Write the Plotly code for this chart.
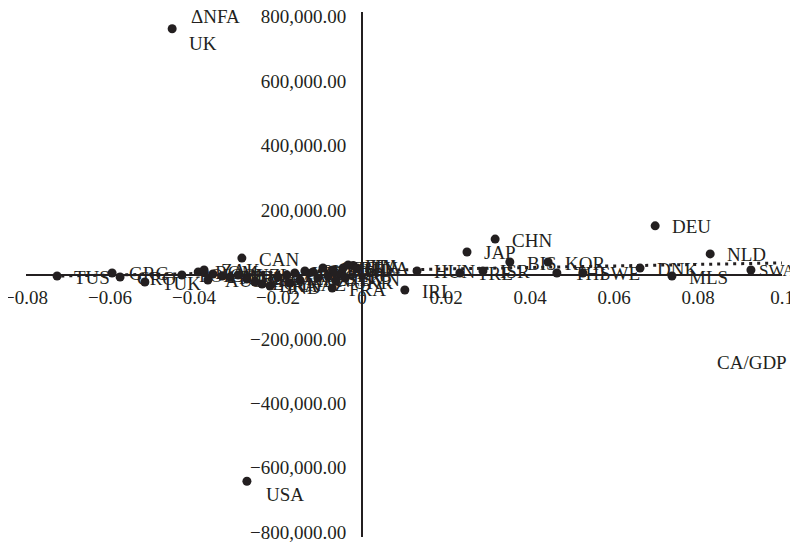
import plotly.graph_objects as go

# ---------------- data ----------------
countries = ["UK", "USA", "DEU", "NLD", "CHN", "JAP", "CAN", "SWA", "MLS", "DNK",
             "THI", "SWE", "KOR", "BIS", "ISR", "TRE", "HUN", "IRL", "FRA", "ITA",
             "TUS", "GRC", "CRO", "TUK", "POL", "ROM", "ZAK", "AUS", "COL", "PER",
             "CHL", "NZL", "ARG", "EGY", "BRA", "IND", "MEX", "PAK", "VNM", "IDN",
             "PHL", "BGD", "EST", "CZE", "SVK", "AUT", "LTU", "BEL", "FIN", "LVA",
             "SVN", "UKR", "KAZ"]
ca_gdp = [-0.0452, -0.0274, 0.0698, 0.0829, 0.0317, 0.0250, -0.0286, 0.0926, 0.0738, 0.0662,
          0.0464, 0.0526, 0.0443, 0.0352, 0.0288, 0.0233, 0.0131, 0.0102, -0.0071, -0.0021,
          -0.0726, -0.0595, -0.0576, -0.0517, -0.0429, -0.0390, -0.0376, -0.0367, -0.0355, -0.0333,
          -0.0314, -0.0295, -0.0274, -0.0255, -0.0238, -0.0219, -0.0200, -0.0179, -0.0160, -0.0148,
          -0.0136, -0.0117, -0.0105, -0.0093, -0.0081, -0.0069, -0.0052, -0.0045, -0.0033, -0.0012,
          -0.0040, -0.0062, -0.0171]
dnfa = [763000, -642000, 151000, 64000, 110000, 70000, 51000, 14000, -4700, 20000,
        4700, 4700, 38800, 38800, 10900, 4700, 10900, -48200, -41900, 28000,
        -4700, 4700, -7800, -23300, -1500, 7800, 14000, -17000, 1500, -4700,
        -7800, -1500, -14000, -23300, -29500, -35700, -7800, -1500, 4700, -17000,
        10900, 7800, -10900, 20200, -4700, 14000, 1500, 20200, 29500, 20200,
        -10900, -20200, -26400]

# linear trend line (dotted), end points
trend_x = [-0.0735, 0.1]
trend_y = [-5000, 36000]

x_ticks = [-0.08, -0.06, -0.04, -0.02, 0, 0.02, 0.04, 0.06, 0.08, 0.1]
x_tick_labels = ["\u22120.08", "\u22120.06", "\u22120.04", "\u22120.02", "0",
                 "0.02", "0.04", "0.06", "0.08", "0.1"]
y_ticks = [-800000, -600000, -400000, -200000, 200000, 400000, 600000, 800000]
y_tick_labels = ["\u2212800,000.00", "\u2212600,000.00", "\u2212400,000.00", "\u2212200,000.00",
                 "200,000.00", "400,000.00", "600,000.00", "800,000.00"]

x_title = "CA/GDP"
y_title = "\u0394NFA"

# ---------------- figure ----------------
INK = "#231f20"
FONT = "Liberation Serif"
FS = 19

fig = go.Figure()

fig.add_trace(go.Scatter(
    x=trend_x, y=trend_y, mode="lines",
    line=dict(color=INK, width=3, dash="3px,5px"),
    hoverinfo="skip", showlegend=False))

fig.add_trace(go.Scatter(
    x=ca_gdp, y=dnfa, mode="markers",
    marker=dict(color=INK, size=9),
    text=countries, showlegend=False))

# (xshift, yshift, font size) for labels placed differently from the default
label_style = {"UK": (15, -15, FS), "USA": (17, -13, FS), "SWA": (6, -1, 17)}
annotations = []
for name, xv, yv in zip(countries, ca_gdp, dnfa):
    dx, dy, fs = label_style.get(name, (15, -1, FS))
    annotations.append(dict(
        x=xv, y=yv, xref="x", yref="y", text=name, showarrow=False,
        xanchor="left", yanchor="middle", xshift=dx, yshift=dy,
        font=dict(family=FONT, size=fs, color=INK)))

annotations.append(dict(x=-0.035, y=800000, xref="x", yref="y", text=y_title,
                        showarrow=False, xanchor="center", yanchor="middle",
                        font=dict(family=FONT, size=FS, color=INK)))
annotations.append(dict(x=0.0929, y=-272000, xref="x", yref="y", text=x_title,
                        showarrow=False, xanchor="center", yanchor="middle",
                        font=dict(family=FONT, size=FS, color=INK)))

x_min, x_max = -0.08, 0.1
# the page body adds an 8px offset, so the figure is 8px smaller than the window
fig.update_layout(
    width=790, height=537,
    margin=dict(l=18, r=16, t=4, b=8),
    paper_bgcolor="white", plot_bgcolor="white",
    showlegend=False,
    annotations=annotations,
    xaxis=dict(range=[x_min, x_max], tickvals=x_ticks, ticktext=x_tick_labels,
               showgrid=False, zeroline=False, showline=True, linecolor=INK, linewidth=2,
               anchor="free", position=0.5, ticks="", ticklabelstandoff=6,
               ticklabeloverflow="allow",
               tickfont=dict(family=FONT, size=FS, color=INK), automargin=False),
    yaxis=dict(range=[-815000, 815000], tickvals=y_ticks, ticktext=y_tick_labels,
               showgrid=False, zeroline=False, showline=True, linecolor=INK, linewidth=2,
               anchor="free", position=(0 - x_min) / (x_max - x_min), ticks="",
               ticklabelstandoff=11, ticklabeloverflow="allow",
               tickfont=dict(family=FONT, size=FS, color=INK), automargin=False),
)

fig.write_html("out.html")
